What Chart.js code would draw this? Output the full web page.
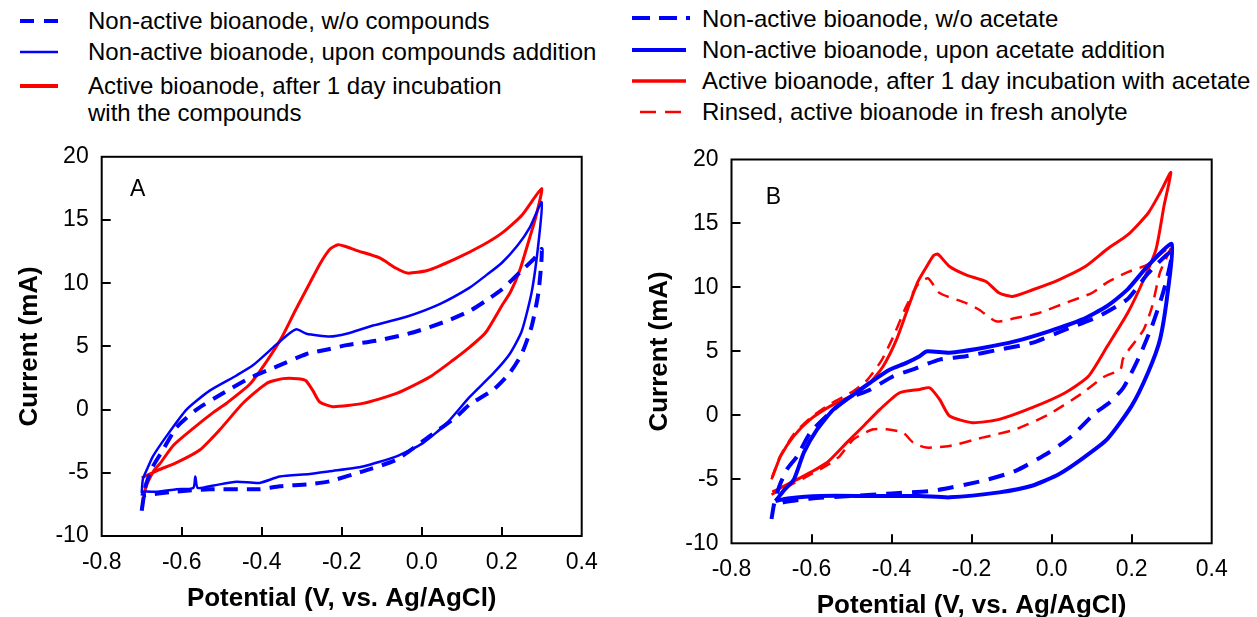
<!DOCTYPE html>
<html>
<head>
<meta charset="utf-8">
<script src="https://cdn.jsdelivr.net/npm/chart.js@4.4.1/dist/chart.umd.min.js"></script>
<style>
  body { margin: 0; width: 1257px; height: 617px; overflow: hidden; background: #fff;
         font-family: "Liberation Sans", Arial, sans-serif; position: relative; }
  canvas { position: absolute; }
  .lg { position: absolute; font-size: 24px; line-height: 27px; color: #000; white-space: nowrap; }
  #sw { position: absolute; left: 0; top: 0; }
</style>
</head>
<body>

<svg id="sw" width="1257" height="130">
  <line x1="20" y1="21" x2="58" y2="21" stroke="#0000ff" stroke-width="4" stroke-dasharray="14,10"/>
  <line x1="20" y1="52" x2="58" y2="52" stroke="#0000ff" stroke-width="2.5"/>
  <line x1="20" y1="86" x2="58" y2="86" stroke="#ff0000" stroke-width="4"/>
  <line x1="632" y1="18" x2="690" y2="18" stroke="#0000ff" stroke-width="4" stroke-dasharray="18,9,18,9,5,20"/>
  <line x1="632" y1="50" x2="686" y2="50" stroke="#0000ff" stroke-width="4"/>
  <line x1="632" y1="81" x2="686" y2="81" stroke="#ff0000" stroke-width="3.5"/>
  <line x1="640" y1="112" x2="681" y2="112" stroke="#ff0000" stroke-width="2.5" stroke-dasharray="16,9"/>
</svg>

<div class="lg" style="left:88px;top:7px">Non-active bioanode, w/o compounds</div>
<div class="lg" style="left:88px;top:38px">Non-active bioanode, upon compounds addition</div>
<div class="lg" style="left:88px;top:72px">Active bioanode, after 1 day incubation<br>with the compounds</div>

<div class="lg" style="left:702px;top:5px">Non-active bioanode, w/o acetate</div>
<div class="lg" style="left:702px;top:36px">Non-active bioanode, upon acetate addition</div>
<div class="lg" style="left:702px;top:67px">Active bioanode, after 1 day incubation with acetate</div>
<div class="lg" style="left:702px;top:98px">Rinsed, active bioanode in fresh anolyte</div>

<canvas id="chartA" width="620" height="487" style="left:0;top:130px"></canvas>
<canvas id="chartB" width="627" height="500" style="left:630px;top:130px"></canvas>

<script>
// axis ticks
var xTicks = [-0.8, -0.6, -0.4, -0.2, 0.0, 0.2, 0.4];
var yTicks = [-10, -5, 0, 5, 10, 15, 20];

// Panel A -- each loop in scan order: forward to 0.3 V, then back to -0.7 V
var aNoCompV = [-0.700, -0.690, -0.672, -0.647, -0.613, -0.563, -0.497, -0.430, -0.363, -0.288, -0.230, -0.188, -0.105, -0.022, 0.062, 0.120, 0.160, 0.200, 0.250, 0.280, 0.300,
                0.292, 0.275, 0.250, 0.220, 0.180, 0.120, 0.087, 0.020, -0.063, -0.147, -0.230, -0.280, -0.355, -0.405, -0.530, -0.620, -0.697];
var aNoCompI = [-8.0, -6.0, -4.5, -3.2, -1.4, 0.0, 1.3, 2.5, 3.4, 4.4, 4.8, 5.1, 5.5, 6.1, 7.0, 7.8, 8.6, 9.5, 11.0, 11.9, 12.7,
                9.3, 6.6, 4.4, 2.9, 1.6, 0.4, -0.56, -2.1, -3.96, -4.88, -5.67, -5.9, -6.06, -6.3, -6.3, -6.5, -6.8];

var aCompV = [-0.700, -0.697, -0.685, -0.672, -0.638, -0.588, -0.530, -0.463, -0.422, -0.372, -0.338, -0.313, -0.288, -0.230, -0.188, -0.122, -0.038, 0.045, 0.120, 0.160, 0.200, 0.240, 0.270, 0.300,
              0.292, 0.275, 0.250, 0.220, 0.180, 0.120, 0.062, 0.003, -0.063, -0.147, -0.230, -0.280, -0.355, -0.405, -0.463, -0.520, -0.560, -0.566, -0.571, -0.613, -0.660, -0.697, -0.700];
var aCompI = [-6.6, -5.5, -4.6, -3.7, -2.1, 0.0, 1.5, 2.7, 3.5, 4.9, 5.85, 6.35, 6.0, 5.78, 6.0, 6.65, 7.35, 8.35, 9.65, 10.6, 11.6, 13.0, 14.4, 16.4,
              13.2, 9.3, 6.2, 4.4, 2.9, 1.0, -1.1, -2.65, -3.7, -4.5, -4.88, -5.1, -5.3, -5.8, -5.7, -6.0, -6.2, -5.3, -6.2, -6.3, -6.5, -6.5, -6.8];

var aActiveV = [-0.700, -0.690, -0.669, -0.655, -0.620, -0.572, -0.520, -0.488, -0.430, -0.388, -0.350, -0.315, -0.280, -0.253, -0.229, -0.209, -0.190, -0.164, -0.105, -0.065, -0.036, 0.014, 0.083, 0.152, 0.202, 0.251, 0.300,
                0.285, 0.270, 0.245, 0.222, 0.200, 0.160, 0.120, 0.078, 0.020, -0.063, -0.147, -0.222, -0.255, -0.272, -0.290, -0.310, -0.347, -0.388, -0.447, -0.505, -0.555, -0.613, -0.660, -0.700];
var aActiveI = [-7.9, -6.2, -4.8, -4.3, -2.8, -1.5, -0.2, 0.5, 2.0, 3.8, 5.7, 7.9, 10.0, 11.6, 12.7, 13.05, 12.9, 12.6, 12.0, 11.2, 10.8, 11.0, 11.9, 13.0, 14.0, 15.4, 17.5,
                15.2, 13.6, 11.0, 9.3, 8.2, 6.1, 4.94, 3.9, 2.58, 1.28, 0.49, 0.23, 0.6, 1.5, 2.3, 2.45, 2.45, 2.07, 0.5, -1.6, -3.2, -4.2, -4.8, -5.4];

// Panel B
var bNoAcV = [-0.700, -0.694, -0.680, -0.661, -0.636, -0.603, -0.561, -0.512, -0.454, -0.396, -0.346, -0.280, -0.214, -0.131, -0.049, 0.034, 0.117, 0.190, 0.241, 0.300,
              0.281, 0.251, 0.220, 0.180, 0.145, 0.109, 0.051, -0.007, -0.090, -0.173, -0.297, -0.400, -0.500, -0.600, -0.670, -0.698];
var bNoAcI = [-8.1, -7.0, -5.5, -4.2, -3.2, -1.35, 0.0, 1.25, 2.0, 3.06, 3.6, 4.36, 4.62, 5.14, 5.66, 6.7, 7.73, 9.1, 11.1, 12.8,
              9.85, 7.0, 4.65, 2.2, 1.0, 0.2, -1.6, -2.9, -4.34, -5.12, -5.9, -6.1, -6.3, -6.5, -6.8, -7.1];

var bAcV = [-0.690, -0.685, -0.670, -0.644, -0.619, -0.586, -0.545, -0.495, -0.454, -0.404, -0.363, -0.330, -0.313, -0.255, -0.173, -0.090, -0.007, 0.075, 0.139, 0.190, 0.241, 0.300,
            0.291, 0.271, 0.241, 0.200, 0.139, 0.075, 0.018, -0.049, -0.131, -0.255, -0.330, -0.454, -0.578, -0.660, -0.690];
var bAcI = [-6.7, -6.5, -5.9, -5.0, -2.9, -1.1, 0.47, 1.63, 2.55, 3.58, 4.1, 4.62, 5.0, 4.9, 5.27, 5.8, 6.57, 7.48, 8.55, 9.85, 11.7, 13.4,
            9.85, 5.95, 3.35, 0.74, -1.86, -3.42, -4.6, -5.5, -6.02, -6.41, -6.3, -6.3, -6.3, -6.5, -6.7];

var bActiveV = [-0.698, -0.677, -0.644, -0.603, -0.553, -0.495, -0.454, -0.421, -0.388, -0.360, -0.335, -0.313, -0.295, -0.284, -0.255, -0.214, -0.164, -0.131, -0.098, -0.049, 0.018, 0.084, 0.139, 0.190, 0.241, 0.271, 0.298,
                0.281, 0.261, 0.230, 0.190, 0.139, 0.092, 0.034, -0.049, -0.131, -0.198, -0.255, -0.280, -0.305, -0.330, -0.380, -0.429, -0.470, -0.512, -0.561, -0.619, -0.698];
var bActiveI = [-4.85, -3.17, -1.6, -0.31, 0.72, 1.63, 2.55, 3.84, 5.9, 8.3, 10.4, 11.6, 12.5, 12.6, 11.63, 10.98, 10.46, 9.56, 9.3, 9.8, 10.6, 11.63, 13.0, 14.1, 15.8, 17.4, 19.0,
                16.4, 13.0, 10.6, 8.0, 5.4, 3.06, 1.77, 0.6, -0.31, -0.57, -0.05, 1.25, 2.16, 2.03, 1.77, 0.47, -0.83, -2.13, -3.68, -4.73, -6.0];

var bRinsedV = [-0.700, -0.680, -0.645, -0.603, -0.553, -0.495, -0.460, -0.425, -0.395, -0.365, -0.335, -0.309, -0.280, -0.214, -0.181, -0.139, -0.090, -0.032, 0.034, 0.100, 0.139, 0.190, 0.241, 0.298,
                0.271, 0.251, 0.230, 0.190, 0.178, 0.172, 0.130, 0.075, -0.007, -0.090, -0.173, -0.255, -0.313, -0.346, -0.371, -0.412, -0.446, -0.495, -0.530, -0.561, -0.619, -0.700];
var bRinsedI = [-5.0, -3.3, -1.5, -0.2, 0.9, 1.9, 2.8, 4.3, 6.2, 8.4, 10.2, 10.72, 9.56, 8.78, 8.26, 7.35, 7.61, 8.0, 8.78, 9.56, 10.4, 11.2, 11.8, 13.2,
                11.2, 8.5, 6.7, 5.0, 4.4, 3.6, 3.0, 1.7, 0.08, -1.09, -1.74, -2.39, -2.52, -2.13, -1.35, -1.09, -1.09, -1.87, -3.2, -3.9, -4.9, -6.2];

var BLUE = '#0000ff';
var RED  = '#ff0000';
var FONT = '"Liberation Sans", Arial, sans-serif';

function points(vs, is) {
  var out = [];
  for (var i = 0; i < vs.length; i++) out.push({ x: vs[i], y: is[i] });
  return out;
}

function series(vs, is, color, width, dash) {
  return {
    data: points(vs, is),
    showLine: true,
    borderColor: color,
    borderWidth: width,
    borderDash: dash || [],
    pointRadius: 0,
    tension: 0.2,
    fill: false
  };
}

// closed frame with inward tick marks, plus the panel letter
var framePlugin = {
  id: 'frame',
  afterDraw: function(chart) {
    var ctx = chart.ctx, a = chart.chartArea, sx = chart.scales.x, sy = chart.scales.y;
    ctx.save();
    ctx.strokeStyle = '#000';
    ctx.lineWidth = 2;
    ctx.strokeRect(a.left, a.top, a.right - a.left, a.bottom - a.top);
    ctx.beginPath();
    xTicks.slice(1, -1).forEach(function(v) {
      var px = Math.round(sx.getPixelForValue(v));
      ctx.moveTo(px, a.bottom); ctx.lineTo(px, a.bottom - 9);
    });
    yTicks.slice(1, -1).forEach(function(v) {
      var py = Math.round(sy.getPixelForValue(v));
      ctx.moveTo(a.left, py); ctx.lineTo(a.left + 9, py);
    });
    ctx.stroke();
    var p = chart.options.plugins.frame;
    ctx.fillStyle = '#000';
    ctx.font = '23px ' + FONT;
    ctx.textAlign = 'center';
    ctx.textBaseline = 'middle';
    ctx.fillText(p.letter, sx.getPixelForValue(p.lx), sy.getPixelForValue(p.ly));
    ctx.restore();
  }
};

function makeChart(id, datasets, box) {
  return new Chart(document.getElementById(id), {
    type: 'scatter',
    data: { datasets: datasets },
    plugins: [framePlugin],
    options: {
      responsive: false,
      animation: false,
      devicePixelRatio: 1,
      layout: { padding: { left: 0, top: box.top, right: box.right, bottom: 0 } },
      plugins: {
        legend: { display: false },
        tooltip: { enabled: false },
        frame: { letter: box.letter, lx: box.lx, ly: box.ly }
      },
      scales: {
        x: {
          type: 'linear', min: -0.8, max: 0.4,
          afterBuildTicks: function(s) { s.ticks = xTicks.map(function(v) { return { value: v }; }); },
          afterFit: function(s) { s.height = box.xHeight; },
          grid: { display: false, drawTicks: false },
          border: { display: false },
          ticks: {
            color: '#000', padding: 13, maxRotation: 0,
            font: { family: FONT, size: 23 },
            callback: function(v) { return (Math.round(v * 10) / 10).toFixed(1); }
          },
          title: {
            display: true, text: 'Potential (V, vs. Ag/AgCl)', color: '#000',
            font: { family: FONT, size: 26, weight: 'bold' },
            padding: { top: 0, bottom: box.xTitlePad }
          }
        },
        y: {
          type: 'linear', min: -10, max: 20,
          afterBuildTicks: function(s) { s.ticks = yTicks.map(function(v) { return { value: v }; }); },
          afterFit: function(s) { s.width = box.yWidth; },
          grid: { display: false, drawTicks: false },
          border: { display: false },
          ticks: {
            color: '#000', padding: 13,
            font: { family: FONT, size: 23 }
          },
          title: {
            display: true, text: 'Current (mA)', color: '#000',
            font: { family: FONT, size: 26, weight: 'bold' },
            padding: { top: 14, bottom: 0 }
          }
        }
      }
    }
  });
}

makeChart('chartA', [
  series(aNoCompV, aNoCompI, BLUE, 4, [14, 9]),
  series(aCompV, aCompI, BLUE, 2.5),
  series(aActiveV, aActiveI, RED, 3)
], { top: 23, right: 38.3, yWidth: 101.7, xHeight: 81, xTitlePad: 3, letter: 'A', lx: -0.71, ly: 17.4 });

makeChart('chartB', [
  series(bNoAcV, bNoAcI, BLUE, 4, [16, 10]),
  series(bAcV, bAcI, BLUE, 4),
  series(bActiveV, bActiveI, RED, 3),
  series(bRinsedV, bRinsedI, RED, 2.5, [12, 8])
], { top: 29.5, right: 45.3, yWidth: 101.5, xHeight: 86.7, xTitlePad: 9, letter: 'B', lx: -0.695, ly: 17.0 });
</script>
</body>
</html>
